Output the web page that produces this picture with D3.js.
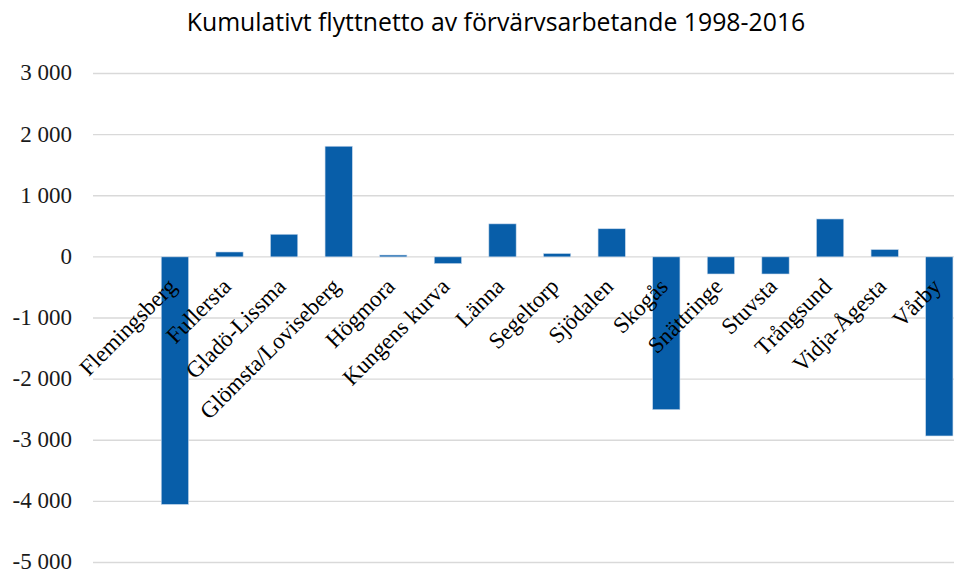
<!DOCTYPE html>
<html>
<head>
<meta charset="utf-8">
<script src="https://cdn.jsdelivr.net/npm/d3@7"></script>
<style>
  html, body { margin: 0; padding: 0; background: #fff; }
  svg { display: block; }
</style>
</head>
<body>
<svg id="chart"></svg>
<script>
const areas = ["Flemingsberg", "Fullersta", "Gladö-Lissma", "Glömsta/Loviseberg", "Högmora",
  "Kungens kurva", "Länna", "Segeltorp", "Sjödalen", "Skogås", "Snättringe", "Stuvsta",
  "Trångsund", "Vidja-Ågesta", "Vårby"];
const netto = [-4050, 80, 370, 1810, 30, -110, 540, 55, 460, -2500, -280, -280, 620, 120, -2930];
const yTicks = [3000, 2000, 1000, 0, -1000, -2000, -3000, -4000, -5000];
const title = "Kumulativt flyttnetto av förvärvsarbetande 1998-2016";

document.addEventListener("DOMContentLoaded", () => {
  const width = 954, height = 572;
  const left = 93, step = 54.6;

  const svg = d3.select("#chart")
    .attr("width", width)
    .attr("height", height);

  const y = d3.scaleLinear().domain([-5000, 3000]).range([562.5, 73.5]);

  // first slot of the category axis is empty in the original
  const x = d3.scaleBand()
    .domain(areas)
    .range([left + step, left + step * 16])
    .paddingInner(0.5)
    .paddingOuter(0.25);

  const sv = d3.formatLocale({ decimal: ",", thousands: "\u00a0", grouping: [3], currency: ["", " kr"], minus: "-" });
  const fmt = sv.format(",d");

  // gridlines
  svg.append("g")
    .selectAll("line")
    .data(yTicks)
    .join("line")
    .attr("x1", left)
    .attr("x2", width)
    .attr("y1", d => y(d))
    .attr("y2", d => y(d))
    .style("stroke", "#d9d9d9")
    .style("stroke-width", 1.3);

  // y labels
  svg.append("g")
    .selectAll("text")
    .data(yTicks)
    .join("text")
    .attr("x", 72)
    .attr("y", d => y(d))
    .attr("dy", "0.3em")
    .attr("text-anchor", "end")
    .style("font-family", "'Liberation Serif', 'Times New Roman', serif")
    .style("font-size", "23px")
    .style("fill", "#1a1a1a")
    .text(d => fmt(d));

  // bars
  svg.append("g")
    .selectAll("rect")
    .data(areas)
    .join("rect")
    .attr("x", d => x(d))
    .attr("width", x.bandwidth())
    .attr("y", (d, i) => y(Math.max(0, netto[i])))
    .attr("height", (d, i) => Math.abs(y(netto[i]) - y(0)))
    .style("fill", "#085ea9")
    .style("stroke", "#c9d9ec")
    .style("stroke-width", 0.6);

  // category labels
  svg.append("g")
    .selectAll("text")
    .data(areas)
    .join("text")
    .attr("text-anchor", "end")
    .attr("transform", d => `translate(${x(d) + x.bandwidth() / 2 + 3},${y(0) + 31}) rotate(-45)`)
    .style("font-family", "'Liberation Serif', 'Times New Roman', serif")
    .style("font-size", "23px")
    .style("fill", "#000")
    .text(d => d);

  // title
  svg.append("text")
    .attr("x", 496)
    .attr("y", 31)
    .attr("text-anchor", "middle")
    .style("font-family", "'Open Sans', sans-serif")
    .style("font-size", "24.8px")
    .style("fill", "#000")
    .text(title);
});
</script>
</body>
</html>
